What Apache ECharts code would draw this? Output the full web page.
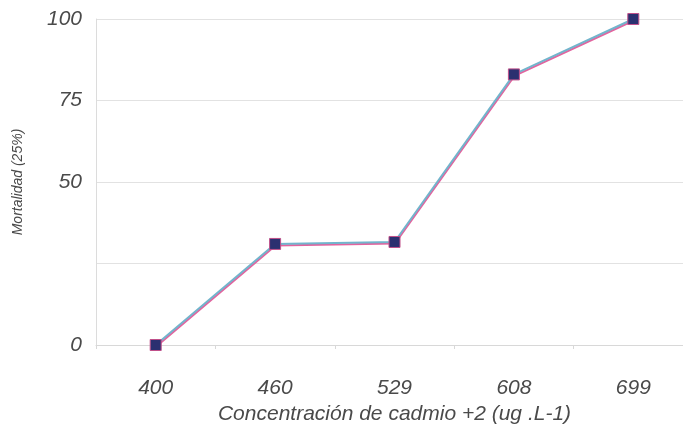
<!DOCTYPE html>
<html>
<head>
<meta charset="utf-8">
<script src="https://cdn.jsdelivr.net/npm/echarts@6/dist/echarts.min.js"></script>
<style>
  html, body { margin: 0; padding: 0; background: #ffffff; }
  #chart { width: 683px; height: 428px; }
</style>
</head>
<body>
<div id="chart"></div>
<script>
// Cadmium concentration (ug/L) and observed mortality
const concentrations = ['400', '460', '529', '608', '699'];
const mortality = [0, 31, 31.6, 83, 100];
const yTicks = [0, 25, 50, 75, 100];
const hiddenTickLabels = [25];

const chart = echarts.init(document.getElementById('chart'), null, { renderer: 'canvas' });

const labelFont = {
  fontFamily: 'Liberation Sans, Arial, sans-serif',
  fontStyle: 'italic',
  color: '#4a4a4a'
};

chart.setOption({
  backgroundColor: '#ffffff',
  animation: false,
  grid: {
    left: 96, right: -10, top: 19, bottom: 83,
    containLabel: false,
    outerBoundsMode: 'none'
  },
  xAxis: {
    type: 'category',
    data: concentrations,
    boundaryGap: true,
    name: 'Concentración de cadmio +2 (ug .L-1)',
    nameLocation: 'middle',
    nameGap: 59,
    nameTextStyle: Object.assign({ fontSize: 21 }, labelFont),
    axisLine: { show: true, lineStyle: { color: '#d8d8d8', width: 1 } },
    axisTick: { show: true, alignWithLabel: false, length: 4, lineStyle: { color: '#d8d8d8' } },
    axisLabel: Object.assign({ fontSize: 21, margin: 33 }, labelFont),
    splitLine: { show: false }
  },
  yAxis: {
    type: 'value',
    min: yTicks[0],
    max: yTicks[yTicks.length - 1],
    interval: 25,
    name: 'Mortalidad (25%)',
    nameLocation: 'middle',
    nameGap: 71,
    nameTextStyle: Object.assign({ fontSize: 14 }, labelFont),
    axisLine: { show: true, lineStyle: { color: '#dcdcdc', width: 1 } },
    axisTick: { show: false },
    axisLabel: Object.assign({
      fontSize: 21,
      margin: 14,
      formatter: v => hiddenTickLabels.includes(v) ? '' : String(v)
    }, labelFont),
    splitLine: { show: true, lineStyle: { color: '#e2e2e2', width: 1 } }
  },
  series: [{
    type: 'line',
    data: mortality,
    symbol: 'rect',
    symbolSize: 11,
    itemStyle: { color: '#2b3070', borderColor: '#c0508a', borderWidth: 1 },
    lineStyle: {
      color: '#72b4cc',
      width: 2,
      shadowColor: '#e2649e',
      shadowBlur: 0,
      shadowOffsetX: 0.5,
      shadowOffsetY: 1.5
    },
    emphasis: { disabled: true }
  }]
});
</script>
</body>
</html>
